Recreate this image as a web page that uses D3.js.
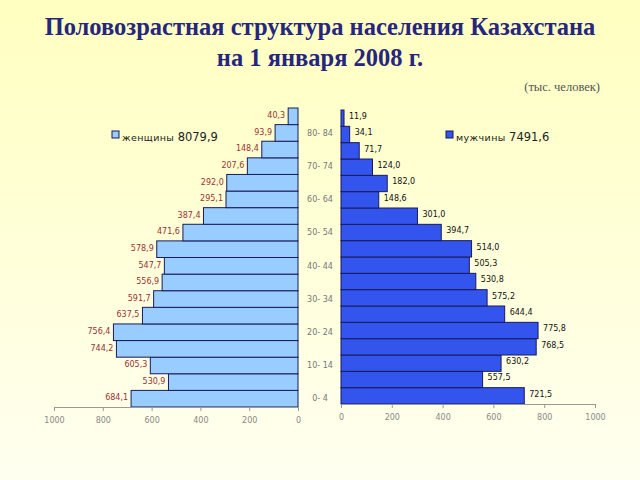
<!DOCTYPE html>
<html><head><meta charset="utf-8">
<script src="https://cdn.jsdelivr.net/npm/d3@7"></script>
<style>html,body{margin:0;padding:0;}svg{display:block;}</style>
</head><body>
<script>
const ageGroups = ["0-4","5-9","10-14","15-19","20-24","25-29","30-34","35-39","40-44","45-49","50-54","55-59","60-64","65-69","70-74","75-79","80-84","85+"];
const ageLabels = ["0-4","10-14","20-24","30-34","40-44","50-54","60-64","70-74","80-84"];
const women = [684.1,530.9,605.3,744.2,756.4,637.5,591.7,556.9,547.7,578.9,471.6,387.4,295.1,292.0,207.6,148.4,93.9,40.3];
const men = [721.5,557.5,630.2,768.5,775.8,644.4,575.2,530.8,505.3,514.0,394.7,301.0,148.6,182.0,124.0,71.7,34.1,11.9];
const axisTicks = [0,200,400,600,800,1000];
const womenTotal = "8079,9", menTotal = "7491,6";
const fmt = v => v.toFixed(1).replace(".", ",");

const W = 640, H = 480;
const svg = d3.select("body").append("svg").attr("width", W).attr("height", H);
const defs = svg.append("defs");
const g = defs.append("linearGradient").attr("id","bg").attr("x1",0).attr("y1",0).attr("x2",0).attr("y2",1);
g.append("stop").attr("offset","0%").attr("stop-color","#ffffc0");
g.append("stop").attr("offset","100%").attr("stop-color","#fffff0");
svg.append("rect").attr("width",W).attr("height",H).attr("fill","url(#bg)");

// Title
const title = svg.append("text").attr("text-anchor","middle")
  .attr("font-family","'Liberation Serif', 'Times New Roman', serif").attr("font-weight","bold")
  .attr("font-size",24.5).attr("fill","#26267e");
title.append("tspan").attr("x",320).attr("y",35).text("Половозрастная структура населения Казахстана");
title.append("tspan").attr("x",320).attr("y",66).text("на 1 января 2008 г.");
svg.append("text").attr("x",600).attr("y",91).attr("text-anchor","end")
  .attr("font-family","'Liberation Serif', serif").attr("font-size",12.5).attr("fill","#555")
  .text("(тыс. человек)");

// Scales
const xL = d3.scaleLinear().domain([0,1000]).range([298,54]);
const xR = d3.scaleLinear().domain([0,1000]).range([341,595]);
const yL = d3.scaleBand().domain(ageGroups.slice().reverse()).range([108,407]).padding(0);
const yR = d3.scaleBand().domain(ageGroups.slice().reverse()).range([110,404]).padding(0);

const font = "Verdana, 'DejaVu Sans', sans-serif";

// Women bars
svg.append("g").selectAll("rect").data(women).join("rect")
  .attr("x", d => xL(d)).attr("y", (d,i) => yL(ageGroups[i]))
  .attr("width", d => xL(0) - xL(d)).attr("height", yL.bandwidth())
  .attr("fill","#99ccff").attr("stroke","#1a1a5a").attr("stroke-width",1);
svg.append("g").selectAll("text").data(women).join("text")
  .attr("x", d => xL(d) - 3).attr("y", (d,i) => yL(ageGroups[i]) + yL.bandwidth()/2 - 1)
  .attr("dy","0.35em").attr("text-anchor","end")
  .attr("font-family",font).attr("font-size",8).attr("fill","#993333")
  .text(d => fmt(d));

// Men bars
svg.append("g").selectAll("rect").data(men).join("rect")
  .attr("x", xR(0)).attr("y", (d,i) => yR(ageGroups[i]))
  .attr("width", d => xR(d) - xR(0)).attr("height", yR.bandwidth())
  .attr("fill","#3355ee").attr("stroke","#1a1a5a").attr("stroke-width",1);
svg.append("g").selectAll("text").data(men).join("text")
  .attr("x", d => xR(d) + 5).attr("y", (d,i) => yR(ageGroups[i]) + yR.bandwidth()/2 - 2)
  .attr("dy","0.35em").attr("text-anchor","start")
  .attr("font-family",font).attr("font-size",8).attr("fill","#111")
  .text(d => fmt(d));

// Age labels
svg.append("g").selectAll("text").data(ageLabels).join("text")
  .attr("x", 320).attr("y", d => yL(d) + yL.bandwidth()/2)
  .attr("dy","0.35em").attr("text-anchor","middle")
  .attr("font-family",font).attr("font-size",8).attr("fill","#777")
  .text(d => d.replace("-", "- "));

// Axes
const axL = svg.append("g").attr("transform","translate(0,407)")
  .call(d3.axisBottom(xL).tickValues(axisTicks).tickSize(4).tickPadding(6).tickFormat(d3.format("d")));
const axR = svg.append("g").attr("transform","translate(0,404)")
  .call(d3.axisBottom(xR).tickValues(axisTicks).tickSize(4).tickPadding(6).tickFormat(d3.format("d")));
[axL, axR].forEach(a => {
  a.select(".domain").attr("stroke","#999");
  a.selectAll(".tick line").attr("stroke","#999");
  a.selectAll(".tick text").attr("fill","#888").attr("font-family",font).attr("font-size",8);
});

// Legends
function legend(x, y, fill, label, total) {
  const lg = svg.append("g");
  lg.append("rect").attr("x",x).attr("y",y-4).attr("width",7).attr("height",7)
    .attr("fill",fill).attr("stroke","#1a1a5a").attr("stroke-width",1);
  const t = lg.append("text").attr("x",x+10).attr("y",y).attr("dy","0.35em")
    .attr("font-family",font).attr("fill","#222");
  t.append("tspan").attr("font-size",9.5).attr("letter-spacing",0.4).text(label + " ");
  t.append("tspan").attr("font-size",11.5).text(total);
}
legend(112, 135, "#99ccff", "женщины", womenTotal);
legend(446, 135, "#3355ee", "мужчины", menTotal);
</script>
</body></html>
